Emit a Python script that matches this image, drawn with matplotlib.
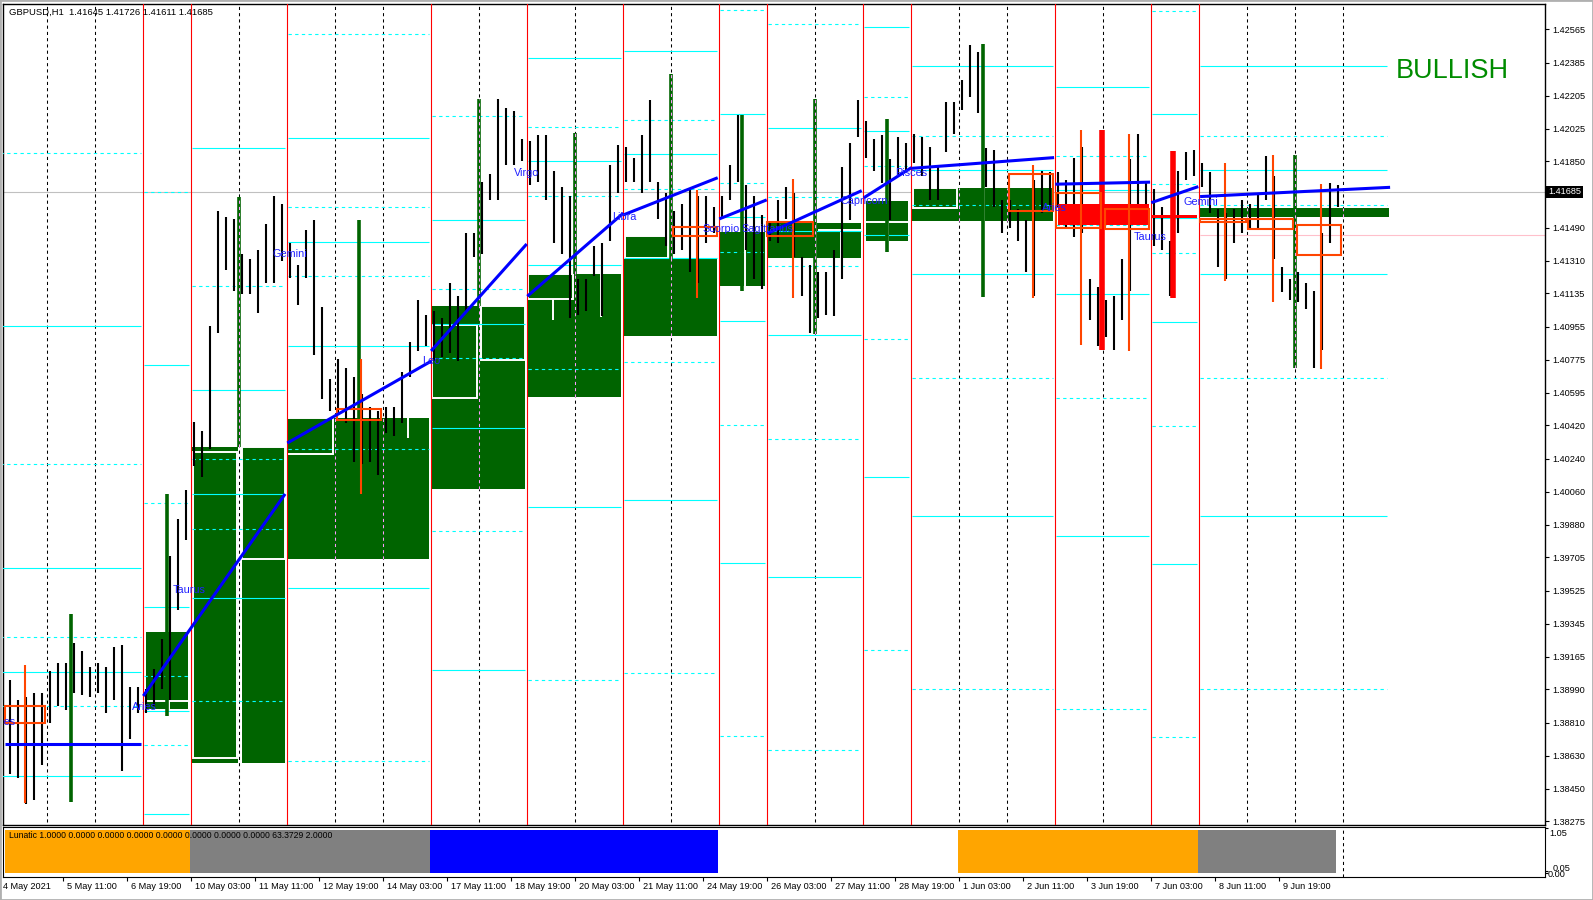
import numpy as np
import matplotlib.pyplot as plt
from matplotlib.patches import Rectangle
from matplotlib import transforms

plt.rcParams['font.family'] = ['Liberation Sans', 'DejaVu Sans']

# GBPUSD H1, bar 0 = 4 May 2021 03:00
# high / low of every group of 4 hourly bars
bar_high = [
    1.3905, 1.3904, 1.3893, 1.3895, 1.3897, 1.3897, 1.3909, 1.3913, 1.3913, 1.3924, 1.3920, 1.3911, 1.3913, 1.3911, 1.3922, 1.3923, 1.3900, 1.3900,
    1.3899, 1.3910, 1.3926, 1.3971, 1.3991, 1.4007,
    1.4044, 1.4039, 1.4096, 1.4158, 1.4155, 1.4154, 1.4135, 1.4132, 1.4137, 1.4151, 1.4166, 1.4162,
    1.4141, 1.4129, 1.4148, 1.4153, 1.4106, 1.4067, 1.4078, 1.4073, 1.4068, 1.4059, 1.4052, 1.4050, 1.4052, 1.4052, 1.4071, 1.4087, 1.4110, 1.4102,
    1.4104, 1.4100, 1.4119, 1.4112, 1.4146, 1.4146, 1.4174, 1.4178, 1.4219, 1.4214, 1.4212, 1.4197,
    1.4196, 1.4199, 1.4199, 1.4180, 1.4171, 1.4166, 1.4121, 1.4121, 1.4139, 1.4141, 1.4183, 1.4194,
    1.4193, 1.4187, 1.4199, 1.4218, 1.4174, 1.4168, 1.4158, 1.4162, 1.4170, 1.4166, 1.4166, 1.4160,
    1.4166, 1.4183, 1.4210, 1.4172, 1.4166, 1.4156,
    1.4152, 1.4164, 1.4171, 1.4168, 1.4133, 1.4129, 1.4125, 1.4125, 1.4137, 1.4182, 1.4195, 1.4218,
    1.4207, 1.4197, 1.4199, 1.4186, 1.4198, 1.4195,
    1.4200, 1.4198, 1.4193, 1.4182, 1.4217, 1.4217, 1.4229, 1.4248, 1.4244, 1.4192, 1.4191, 1.4164, 1.4164, 1.4159, 1.4153, 1.4175, 1.4180, 1.4179,
    1.4179, 1.4175, 1.4187, 1.4193, 1.4121, 1.4117, 1.4110, 1.4112, 1.4132, 1.4186, 1.4200, 1.4173,
    1.4170, 1.4160, 1.4142, 1.4180, 1.4190, 1.4191,
    1.4184, 1.4179, 1.4159, 1.4157, 1.4159, 1.4164, 1.4162, 1.4168, 1.4188, 1.4177, 1.4128, 1.4121, 1.4125, 1.4119, 1.4115, 1.4146, 1.4173, 1.4172]
bar_low = [
    1.3853, 1.3853, 1.3851, 1.3837, 1.3839, 1.3858, 1.3881, 1.3890, 1.3888, 1.3897, 1.3896, 1.3895, 1.3897, 1.3886, 1.3893, 1.3855, 1.3872, 1.3886,
    1.3886, 1.3890, 1.3899, 1.3893, 1.3942, 1.3980,
    1.4020, 1.4014, 1.4029, 1.4092, 1.4126, 1.4115, 1.4113, 1.4113, 1.4103, 1.4119, 1.4119, 1.4131,
    1.4122, 1.4107, 1.4122, 1.4080, 1.4056, 1.4050, 1.4048, 1.4043, 1.4022, 1.4021, 1.4022, 1.4015, 1.4038, 1.4036, 1.4043, 1.4068, 1.4082, 1.4085,
    1.4077, 1.4079, 1.4081, 1.4077, 1.4104, 1.4133, 1.4135, 1.4164, 1.4164, 1.4183, 1.4183, 1.4185,
    1.4172, 1.4174, 1.4164, 1.4141, 1.4135, 1.4100, 1.4102, 1.4104, 1.4123, 1.4101, 1.4142, 1.4168,
    1.4174, 1.4174, 1.4168, 1.4174, 1.4154, 1.4139, 1.4135, 1.4137, 1.4125, 1.4119, 1.4141, 1.4146,
    1.4154, 1.4164, 1.4174, 1.4137, 1.4121, 1.4116,
    1.4142, 1.4141, 1.4154, 1.4133, 1.4112, 1.4092, 1.4100, 1.4102, 1.4101, 1.4121, 1.4153, 1.4198,
    1.4187, 1.4180, 1.4173, 1.4153, 1.4177, 1.4179,
    1.4184, 1.4177, 1.4164, 1.4164, 1.4190, 1.4200, 1.4213, 1.4220, 1.4211, 1.4171, 1.4160, 1.4146, 1.4149, 1.4142, 1.4125, 1.4112, 1.4157, 1.4160,
    1.4160, 1.4149, 1.4144, 1.4146, 1.4099, 1.4085, 1.4090, 1.4083, 1.4099, 1.4115, 1.4160, 1.4157,
    1.4139, 1.4137, 1.4112, 1.4146, 1.4175, 1.4177,
    1.4171, 1.4157, 1.4128, 1.4121, 1.4141, 1.4146, 1.4148, 1.4149, 1.4164, 1.4132, 1.4114, 1.4110, 1.4109, 1.4105, 1.4073, 1.4083, 1.4141, 1.4160]

last_price = 1.41685

# moon sign periods (bar index)
sign_edges = [0, 72, 96, 144, 216, 264, 312, 360, 384, 432, 456, 528, 576, 600, 695]

# level lines of every period
level_solid = [
    [1.39084, 1.39646, 1.38522, 1.40958],
    [1.38874, 1.39436, 1.38312, 1.40748],
    [1.40048, 1.40610, 1.39486, 1.41922],
    [1.41413, 1.41975, 1.40851, 1.39539],
    [1.40969, 1.41531, 1.40407, 1.39095],
    [1.41849, 1.42411, 1.41287, 1.39975],
    [1.41888, 1.42450, 1.41326, 1.40014],
    [1.41546, 1.42108, 1.40984, 1.39672],
    [1.41471, 1.42033, 1.40909, 1.39597],
    [1.42013, 1.42575, 1.41451, 1.40139],
    [1.41802, 1.42364, 1.41240, 1.39928],
    [1.41693, 1.42255, 1.41131, 1.39819],
    [1.41542, 1.42104, 1.40980, 1.39668],
    [1.41802, 1.42364, 1.41240, 1.39928]]
level_dash = [
    [1.39271, 1.38897, 1.40208, 1.41895],
    [1.39061, 1.38687, 1.39998, 1.41685],
    [1.40235, 1.39861, 1.41172, 1.38924],
    [1.41600, 1.41226, 1.42537, 1.40289, 1.38602],
    [1.41156, 1.40782, 1.42093, 1.39845],
    [1.42036, 1.41662, 1.40725, 1.39038],
    [1.42075, 1.41701, 1.40764, 1.39077],
    [1.41733, 1.41359, 1.42670, 1.40422, 1.38735],
    [1.41658, 1.41284, 1.42595, 1.40347, 1.38660],
    [1.42200, 1.41826, 1.40889, 1.39202],
    [1.41989, 1.41615, 1.40678, 1.38991],
    [1.41880, 1.41506, 1.40569, 1.38882],
    [1.41729, 1.41355, 1.42666, 1.40418, 1.38731],
    [1.41989, 1.41615, 1.40678, 1.38991]]

# (bar start, bar end, low, high)
green_boxes = [(73.4, 94.4, 1.38884, 1.39301), (96.2, 119.5, 1.38591, 1.40304),
               (121.2, 142.9, 1.38591, 1.40304), (144.0, 214.9, 1.39696, 1.40460),
               (215.9, 262.9, 1.40075, 1.41067), (264.0, 310.9, 1.40574, 1.41237),
               (312.0, 358.7, 1.40906, 1.41324), (312.9, 334.4, 1.41324, 1.41448),
               (360.0, 382.9, 1.41175, 1.41465), (383.9, 430.9, 1.41327, 1.41516),
               (433.4, 454.5, 1.41419, 1.41635), (456.2, 527.0, 1.41527, 1.41704),
               (600.4, 694.9, 1.41550, 1.41596)]
white_boxes = [(96.7, 119.0, 1.38618, 1.40274), (121.2, 142.9, 1.39696, 1.40304),
               (143.9, 166.9, 1.40265, 1.40460), (216.4, 238.9, 1.40570, 1.40964),
               (240.9, 262.9, 1.40771, 1.41067), (264.4, 286.7, 1.41102, 1.41237),
               (312.9, 334.4, 1.41324, 1.41448), (456.9, 478.7, 1.41596, 1.41704)]
white_vsegs = [(84.8, 1.38884, 1.38927), (204.4, 1.40352, 1.40460), (276.9, 1.40991, 1.41102),
               (300.9, 1.41009, 1.41237), (372.9, 1.41175, 1.41465), (408.1, 1.41327, 1.41516),
               (420.9, 1.41327, 1.41478), (444.5, 1.41419, 1.41522), (492.5, 1.41527, 1.41704)]
white_hsegs = [(73.4, 94.4, 1.38927), (409.4, 430.9, 1.41478), (433.4, 454.5, 1.41522)]
green_spikes = [(35.7, 1.38377, 1.39400), (83.7, 1.38846, 1.40048), (119.6, 1.40303, 1.41657),
                (179.9, 1.40460, 1.41530), (240.0, 1.41067, 1.42190), (287.9, 1.41237, 1.42004),
                (335.7, 1.41321, 1.42325), (371.4, 1.41148, 1.42101), (407.9, 1.40912, 1.42188),
                (443.7, 1.41361, 1.42079), (491.7, 1.41114, 1.42486), (647.9, 1.40729, 1.41884)]
orange_boxes = [(2.9, 22.9, 1.38805, 1.38902), (168.7, 190.9, 1.40449, 1.40506),
                (336.7, 359.0, 1.41445, 1.41496), (384.0, 407.0, 1.41445, 1.41522),
                (504.9, 526.7, 1.41583, 1.41781), (528.4, 550.7, 1.41487, 1.41680),
                (552.9, 575.0, 1.41482, 1.41590), (600.4, 623.4, 1.41523, 1.41536),
                (624.4, 647.0, 1.41482, 1.41536), (648.7, 671.0, 1.41343, 1.41507)]
orange_whiskers = [(12.9, 1.38374, 1.39122), (180.7, 1.40048, 1.40777), (348.7, 1.41107, 1.41693),
                   (396.7, 1.41110, 1.41756), (516.7, 1.41108, 1.41830), (540.7, 1.40855, 1.42020),
                   (564.9, 1.40823, 1.41998), (612.9, 1.41204, 1.41843), (636.7, 1.41090, 1.41884),
                   (660.9, 1.40724, 1.41727)]
red_boxes = [(529.2, 574.9, 1.41505, 1.41619), (575.9, 598.9, 1.41542, 1.41559)]
red_spikes = [(551.2, 1.40828, 1.42020), (587.0, 1.41112, 1.41906)]

# (bar0, price0, bar1, price1)
trend_lines = [(2.9, 1.38694, 70.9, 1.38694), (72.0, 1.38954, 142.9, 1.40048),
               (144.0, 1.40324, 216.2, 1.40769), (215.9, 1.40823, 263.7, 1.41402),
               (264.0, 1.41119, 312.0, 1.41569), (311.9, 1.41559, 359.2, 1.41761),
               (360.0, 1.41538, 383.7, 1.41641), (384.0, 1.41459, 431.2, 1.41691),
               (432.2, 1.41652, 456.1, 1.41816), (456.2, 1.41812, 527.4, 1.41870),
               (528.0, 1.41726, 575.4, 1.41737), (576.0, 1.41626, 599.5, 1.41713),
               (600.4, 1.41659, 695.4, 1.41709)]

sign_names = ['Pisces', 'Aries', 'Taurus', 'Gemini', 'Leo', 'Virgo', 'Libra', 'Scorpio',
              'Sagittarius', 'Capricorn', 'Pisces', 'Aries', 'Taurus', 'Gemini']
sign_x = [-8.0, 66.4, 86.9, 136.4, 211.4, 257.4, 306.4, 351.4, 370.9, 420.4, 447.9, 521.4, 567.4, 591.9]
sign_y = [1.38813, 1.38894, 1.39528, 1.41348, 1.40769, 1.41787, 1.41549, 1.41484, 1.41484,
          1.41635, 1.41787, 1.41597, 1.41440, 1.41630]

# Lunatic indicator state blocks
luna_start = [2.9, 95.35, 215.35, 479.25, 599.35]
luna_end = [95.35, 215.35, 359.3, 599.35, 668.15]
luna_color = ['#ffa500', '#808080', '#0000ff', '#ffa500', '#808080']

price_ticks = [1.42565, 1.42385, 1.42205, 1.42025, 1.41850, 1.41490, 1.41310, 1.41135, 1.40955,
               1.40775, 1.40595, 1.40420, 1.40240, 1.40060, 1.39880, 1.39705, 1.39525, 1.39345,
               1.39165, 1.38990, 1.38810, 1.38630, 1.38450, 1.38275]
date_labels = ['4 May 2021', '5 May 11:00', '6 May 19:00', '10 May 03:00', '11 May 11:00',
               '12 May 19:00', '14 May 03:00', '17 May 11:00', '18 May 19:00', '20 May 03:00',
               '21 May 11:00', '24 May 19:00', '26 May 03:00', '27 May 11:00', '28 May 19:00',
               '1 Jun 03:00', '2 Jun 11:00', '3 Jun 19:00', '7 Jun 03:00', '8 Jun 11:00', '9 Jun 19:00']

W, H = 1593, 900
fig = plt.figure(figsize=(W / 100, H / 100), dpi=100)
ax = fig.add_axes([3.3 / W, 75 / H, 1541.7 / W, 821 / H])
ax2 = fig.add_axes([3.3 / W, 23.3 / H, 1541.7 / W, 50 / H])
xlim = (2.0, 772.85)
ax.set_xlim(xlim)
ax.set_ylim(1.38255, 1.42702)
dash = (0, (3, 3))

# grid and moon sign separators
red_x = sign_edges[1:-1]
grid_x = [g for g in range(24, 673, 24) if g not in red_x]
ax.vlines(grid_x, 1.38, 1.43, colors='black', linestyles=dash, lw=0.75, zorder=1)
ax.vlines(red_x, 1.38, 1.43, colors='red', lw=0.8, zorder=3)
ax.axhline(last_price, color='#c0c0c0', lw=0.8, zorder=1.5)
ax.hlines(1.41450, 600.4, xlim[1], colors='#ffc0cb', lw=0.8, zorder=1.5)

for (x0, x1, lo, hi) in green_boxes:
    ax.add_patch(Rectangle((x0, lo), x1 - x0, hi - lo, facecolor='#006400', edgecolor='none', zorder=2))
for (x0, x1, lo, hi) in white_boxes:
    ax.add_patch(Rectangle((x0, lo), x1 - x0, hi - lo, facecolor='none', edgecolor='white', lw=1.4, zorder=2.3))
for (x, lo, hi) in white_vsegs:
    ax.vlines(x, lo, hi, colors='white', lw=1.4, zorder=2.3)
for (x0, x1, y) in white_hsegs:
    ax.hlines(y, x0, x1, colors='white', lw=1.4, zorder=2.3)
# grid inverted over the filled boxes
for g in grid_x:
    for (x0, x1, lo, hi) in green_boxes:
        if x0 < g < x1:
            ax.vlines(g, lo, hi, colors='#ff9bff', linestyles=dash, lw=0.75, zorder=2.4)

for i in range(len(level_solid)):
    x0, x1 = sign_edges[i] + 0.5, sign_edges[i + 1] - 1
    ax.hlines(level_solid[i], x0, x1, colors='#00ffff', lw=0.8, zorder=3.5)
    ax.hlines(level_dash[i], x0, x1, colors='#00ffff', linestyles=dash, lw=0.8, zorder=3.5)

# price bars
xb = np.arange(len(bar_high)) * 4 + 1.5
ax.vlines(xb, bar_low, bar_high, colors='black', lw=1.5, zorder=4)

for (x, lo, hi) in green_spikes:
    ax.vlines(x, lo, hi, colors='#006400', lw=2.6, zorder=4.5)
    for g in grid_x:
        if abs(g - x) < 1:
            ax.vlines(g, lo, hi, colors='#ff9bff', linestyles=dash, lw=0.75, zorder=4.6)
for (x0, x1, lo, hi) in red_boxes:
    ax.add_patch(Rectangle((x0, lo), x1 - x0, hi - lo, facecolor='red', edgecolor='none', zorder=4.7))
for (x, lo, hi) in red_spikes:
    ax.vlines(x, lo, hi, colors='red', lw=4.0, zorder=4.7)
for (x0, x1, lo, hi) in orange_boxes:
    ax.add_patch(Rectangle((x0, lo), x1 - x0, hi - lo, facecolor='none', edgecolor='#ff4500', lw=1.5, zorder=5))
for (x, lo, hi) in orange_whiskers:
    ax.vlines(x, lo, hi, colors='#ff4500', lw=1.5, zorder=5)

for (x0, p0, x1, p1) in trend_lines:
    ax.plot([x0, x1], [p0, p1], color='#0000ff', lw=2.2, solid_capstyle='butt', zorder=6)

for name, x, y in zip(sign_names, sign_x, sign_y):
    ax.text(x, y, name, color='#2020ff', fontsize=7.8, va='center', ha='left', zorder=7, clip_on=True)

ax.text(698.35, 1.42340, 'BULLISH', color='#008c00', fontsize=19.5, va='center', ha='left', zorder=7)
ax.text(0.0037, 0.9894, 'GBPUSD,H1  1.41645 1.41726 1.41611 1.41685', transform=ax.transAxes,
        fontsize=6.8, va='center', ha='left', zorder=8)

ax.set_xticks([])
ax.yaxis.tick_right()
ax.set_yticks(price_ticks)
ax.set_yticklabels(['%.5f' % v for v in price_ticks])
ax.tick_params(axis='y', length=3, width=0.8, pad=2, labelsize=6.6, direction='out')
for s in ax.spines.values():
    s.set_linewidth(1.0)
tr = transforms.blended_transform_factory(ax.transAxes, ax.transData)
ax.text(1.002, last_price, '1.41685', transform=tr, color='white', fontsize=6.6, va='center', ha='left',
        zorder=9, bbox=dict(facecolor='black', edgecolor='none', pad=1.2))

# indicator window
ax2.set_xlim(xlim)
ax2.set_ylim(-0.078, 1.076)
for x0, x1, c in zip(luna_start, luna_end, luna_color):
    ax2.bar(x0, 1.0, width=x1 - x0, bottom=0, align='edge', color=c, zorder=2)
ax2.axvline(672, color='black', linestyle=dash, lw=0.75, zorder=1)
ax2.text(0.0037, 0.834, 'Lunatic 1.0000 0.0000 0.0000 0.0000 0.0000 0.0000 0.0000 0.0000 63.3729 2.0000',
         transform=ax2.transAxes, fontsize=6.2, va='center', ha='left', zorder=5)
ax2.yaxis.tick_right()
ax2.set_yticks([0.0, 0.05, 1.05])
ax2.set_yticklabels([])
ax2.tick_params(axis='y', length=2, width=0.8)
ax2.text(1.003, 0.874, '1.05', transform=ax2.transAxes, fontsize=6.6, va='center', ha='left')
ax2.text(1.005, 0.16, '0.05', transform=ax2.transAxes, fontsize=6.6, va='center', ha='left')
ax2.text(1.002, 0.05, '0.00', transform=ax2.transAxes, fontsize=6.6, va='center', ha='left')
date_pos = [32 * i for i in range(len(date_labels))]
ax2.set_xticks(date_pos[1:])
ax2.set_xticklabels([])
ax2.tick_params(axis='x', length=3, width=0.8, direction='out')
for x, lab in zip(date_pos, date_labels):
    ax2.annotate(lab, xy=(x, 0), xycoords=('data', 'axes fraction'), xytext=(3, -7.2),
                 textcoords='offset points', fontsize=6.6, va='center', ha='left', annotation_clip=False)

fig.add_artist(Rectangle((0, 0), 1, 1, transform=fig.transFigure, fill=False, edgecolor='#b0b0b0', lw=2))
fig.savefig('out.png', dpi=100)
